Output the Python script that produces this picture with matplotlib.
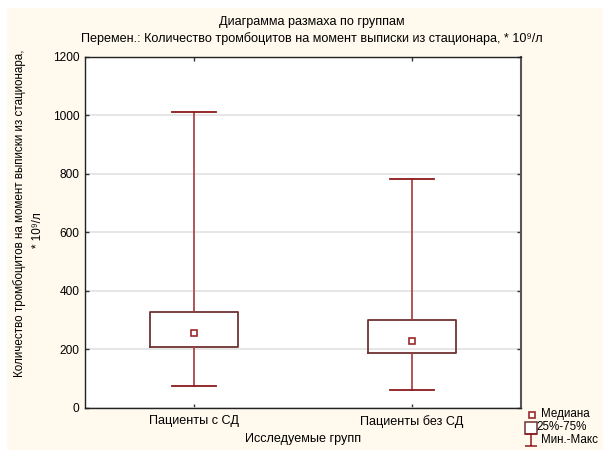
import matplotlib
matplotlib.use("Agg")
import matplotlib.pyplot as plt
from matplotlib.lines import Line2D
from matplotlib.path import Path
from matplotlib.patches import Rectangle

plt.rcParams['font.family'] = ['Liberation Sans', 'DejaVu Sans']

groups = ["Пациенты с СД", "Пациенты без СД"]
medians = [257, 228]
q1 = [208, 187]
q3 = [327, 300]
mins = [75, 61]
maxs = [1009, 781]
yticks = [0, 200, 400, 600, 800, 1000, 1200]

title = "Диаграмма размаха по группам\nПеремен.: Количество тромбоцитов на момент выписки из стационара, * 10⁹/л"
ylabel1 = "Количество тромбоцитов на момент выписки из стационара,"
ylabel2 = "* 10⁹/л"
xlabel = "Исследуемые групп"
legend_labels = ["Медиана", "25%-75%", "Мин.-Макс"]

W, H = 603, 450
fig = plt.figure(figsize=(W / 100, H / 100), dpi=100, facecolor="white")
fig.patches.append(Rectangle((7 / W, 0), 1 - 7 / W, 1 - 8 / H, transform=fig.transFigure,
                             facecolor="#fff9ee", edgecolor="none", zorder=-10))

ax = fig.add_axes([85 / W, 1 - 408 / H, (521 - 85) / W, (408 - 56.5) / H])
ax.set_facecolor("white")

box_c = "#6e3333"
whisk_c = "#a33a3a"
cap_c = "#8b1a1a"

stats = []
for i in range(len(groups)):
    stats.append(dict(med=medians[i], q1=q1[i], q3=q3[i], whislo=mins[i], whishi=maxs[i], fliers=[]))
pos = list(range(1, len(groups) + 1))
ax.bxp(stats, positions=pos, widths=0.4, showfliers=False,
       boxprops=dict(color=box_c, linewidth=1.3),
       whiskerprops=dict(color=whisk_c, linewidth=1.2),
       capprops=dict(color=cap_c, linewidth=1.3),
       medianprops=dict(linewidth=0),
       capwidths=0.2, zorder=3)
ax.plot(pos, medians, ls="", marker="s", ms=4.5, mfc="white", mec="#9b2a2a", mew=1.2, zorder=4)

ax.set_xlim(0.5, 2.5)
ax.set_ylim(0, 1200)
ax.set_yticks(yticks)
ax.set_xticks(pos)
ax.set_xticklabels(groups)
ax.yaxis.grid(True, color="#e2e2e2", linewidth=1.2, zorder=0)
ax.set_axisbelow(True)
ax.tick_params(direction="in", length=3, width=1, color="#333333",
               top=True, right=True, pad=4)
ax.tick_params(axis="y", labelsize=8.6)
ax.tick_params(axis="x", labelsize=9.1, pad=5)
for s in ax.spines.values():
    s.set_color("#222222")
    s.set_linewidth(1.0)
ax.spines["right"].set_color("#555555")
ax.spines["right"].set_linewidth(1.5)

fig.text(312 / W, 1 - 30.5 / H, title, ha="center", va="center", fontsize=9.1, linespacing=1.32)
ax.set_xlabel(xlabel, fontsize=9.1, labelpad=4)
fig.text(20 / W, 1 - 213 / H, ylabel1, rotation=90, ha="center", va="center", fontsize=8.4)
fig.text(38 / W, 1 - 230 / H, ylabel2, rotation=90, ha="center", va="center", fontsize=8.4)

# legend (drawn in figure pixel space)
ibeam = Path([(-1, 1), (1, 1), (0, 1), (0, -1), (-1, -1), (1, -1)],
             [Path.MOVETO, Path.LINETO, Path.MOVETO, Path.LINETO, Path.MOVETO, Path.LINETO])
leg_items = [
    dict(x=532, y=414.5, tx=541, marker="s", ms=4, mec="#9b2a2a", mew=1.2),
    dict(x=531, y=427.5, tx=536, marker="s", ms=8.5, mec=box_c, mew=1.1),
    dict(x=530.5, y=440, tx=541, marker=ibeam, ms=8.5, mec=cap_c, mew=1.1),
]
for item, lab in zip(leg_items, legend_labels):
    fig.add_artist(Line2D([item["x"] / W], [1 - item["y"] / H], transform=fig.transFigure,
                          ls="", marker=item["marker"], ms=item["ms"], mfc="white",
                          mec=item["mec"], mew=item["mew"]))
    fig.text(item["tx"] / W, 1 - item["y"] / H, lab, ha="left", va="center", fontsize=8.4)

fig.savefig("out.png", dpi=100, facecolor=fig.get_facecolor())
